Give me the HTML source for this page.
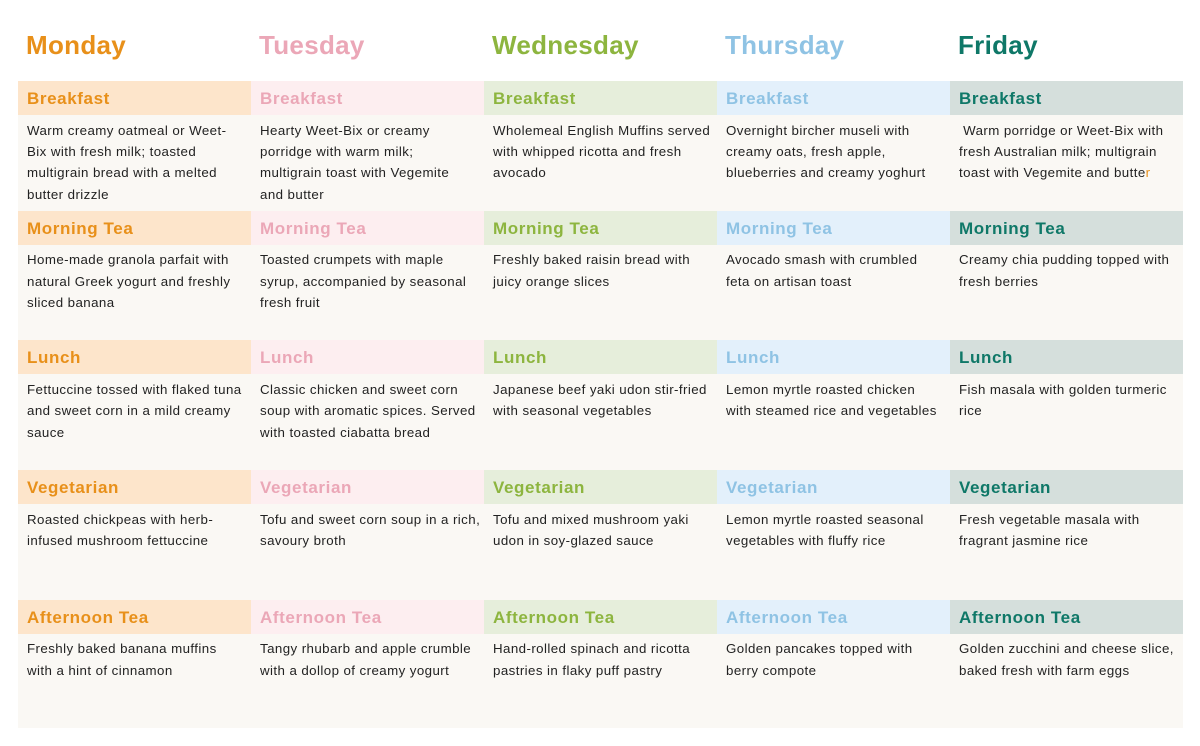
<!DOCTYPE html>
<html><head><meta charset="utf-8"><style>
*{margin:0;padding:0;box-sizing:border-box}
body{width:1200px;height:746px;background:#fff;position:relative;font-family:"Liberation Sans",sans-serif;overflow:hidden}
.bg{position:absolute;left:18px;top:81px;width:1165px;height:647px;background:#faf8f4}
.day{position:absolute;top:30px;font-size:26px;font-weight:bold;letter-spacing:0.3px}
.band{position:absolute;height:34px;font-size:17px;font-weight:bold;padding:8px 0 0 9px;letter-spacing:0.6px}
.txt{position:absolute;font-size:13.3px;line-height:21.4px;color:#222;padding-left:9px;letter-spacing:0.42px;white-space:nowrap}
</style></head><body>
<div class="bg"></div>
<div id="c"></div>
<script>
const cols=[
{n:"Monday",c:"#e8901a",b:"#fde5cb",x:18},
{n:"Tuesday",c:"#eba7b7",b:"#fdeef0",x:251},
{n:"Wednesday",c:"#8db53f",b:"#e6eedb",x:484},
{n:"Thursday",c:"#8fc3e4",b:"#e3f0fb",x:717},
{n:"Friday",c:"#0f7868",b:"#d5dfdc",x:950}];
const meals=["Breakfast","Morning Tea","Lunch","Vegetarian","Afternoon Tea"];
const t=[
["Warm creamy oatmeal or Weet-<br>Bix with fresh milk; toasted<br>multigrain bread with a melted<br>butter drizzle","Home-made granola parfait with<br>natural Greek yogurt and freshly<br>sliced banana","Fettuccine tossed with flaked tuna<br>and sweet corn in a mild creamy<br>sauce","Roasted chickpeas with herb-<br>infused mushroom fettuccine","Freshly baked banana muffins<br>with a hint of cinnamon"],
["Hearty Weet-Bix or creamy<br>porridge with warm milk;<br>multigrain toast with Vegemite<br>and butter","Toasted crumpets with maple<br>syrup, accompanied by seasonal<br>fresh fruit","Classic chicken and sweet corn<br>soup with aromatic spices. Served<br>with toasted ciabatta bread","Tofu and sweet corn soup in a rich,<br>savoury broth","Tangy rhubarb and apple crumble<br>with a dollop of creamy yogurt"],
["Wholemeal English Muffins served<br>with whipped ricotta and fresh<br>avocado","Freshly baked raisin bread with<br>juicy orange slices","Japanese beef yaki udon stir-fried<br>with seasonal vegetables","Tofu and mixed mushroom yaki<br>udon in soy-glazed sauce","Hand-rolled spinach and ricotta<br>pastries in flaky puff pastry"],
["Overnight bircher museli with<br>creamy oats, fresh apple,<br>blueberries and creamy yoghurt","Avocado smash with crumbled<br>feta on artisan toast","Lemon myrtle roasted chicken<br>with steamed rice and vegetables","Lemon myrtle roasted seasonal<br>vegetables with fluffy rice","Golden pancakes topped with<br>berry compote"],
["&nbsp;Warm porridge or Weet-Bix with<br>fresh Australian milk; multigrain<br>toast with Vegemite and butte<span style='color:#e8901a'>r</span>","Creamy chia pudding topped with<br>fresh berries","Fish masala with golden turmeric<br>rice","Fresh vegetable masala with<br>fragrant jasmine rice","Golden zucchini and cheese slice,<br>baked fresh with farm eggs"]];
let h="";
cols.forEach((c,i)=>{
 h+=`<div class="day" style="left:${c.x+8}px;color:${c.c}">${c.n}</div>`;
 meals.forEach((m,j)=>{
  const y=81+j*129.7;
  h+=`<div class="band" style="left:${c.x}px;top:${y}px;width:233px;background:${c.b};color:${c.c}">${m}</div>`;
  h+=`<div class="txt" style="left:${c.x}px;top:${y+38.5}px;width:235px">${t[i][j]}</div>`;
 });
});
document.getElementById("c").innerHTML=h;
</script>
</body></html>
